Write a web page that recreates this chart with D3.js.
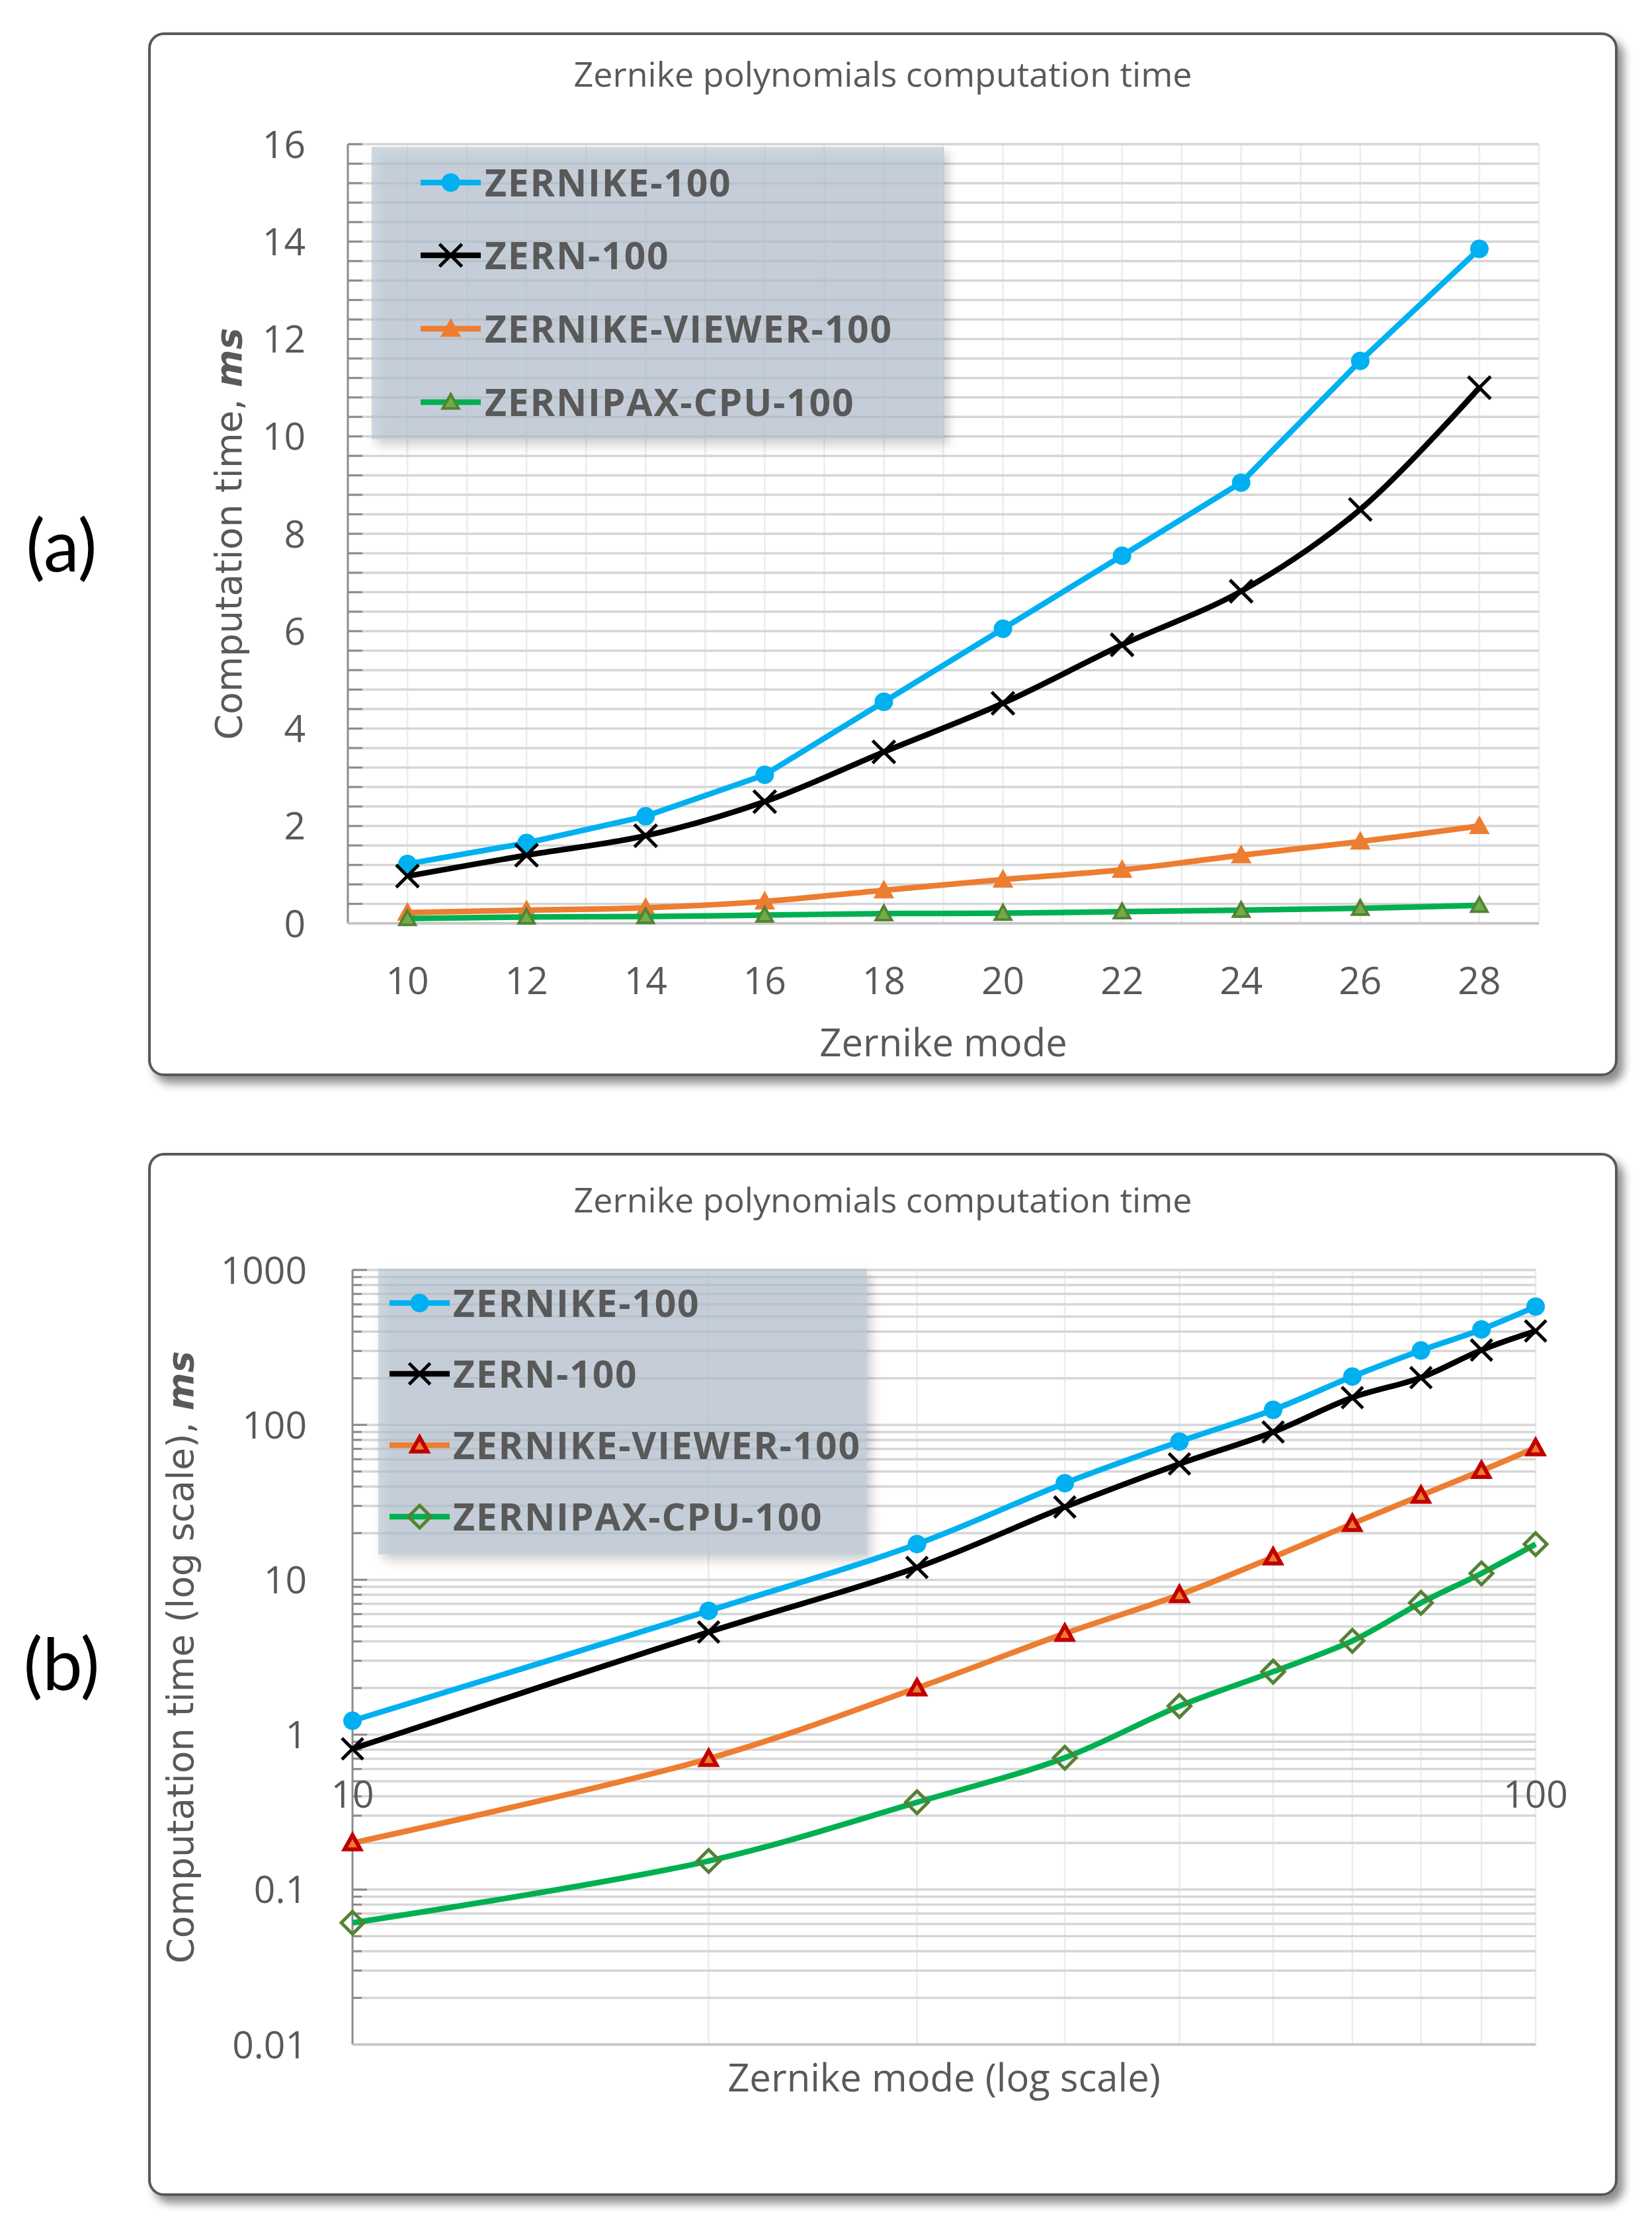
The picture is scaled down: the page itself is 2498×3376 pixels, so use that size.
<!DOCTYPE html>
<html>
<head>
<meta charset="utf-8">
<script src="https://cdn.jsdelivr.net/npm/d3@7"></script>
<style>
  body { margin: 0; background: #fff; }
  svg { display: block; }
</style>
</head>
<body>
<svg id="chart"></svg>
<script>
// ---- data, panel (a): linear axes ----
const seriesNames = ["ZERNIKE-100", "ZERN-100", "ZERNIKE-VIEWER-100", "ZERNIPAX-CPU-100"];

const modesA = [10, 12, 14, 16, 18, 20, 22, 24, 26, 28];
const zernikeA = [1.22, 1.65, 2.2, 3.05, 4.55, 6.05, 7.55, 9.05, 11.55, 13.85];
const zernA = [0.97, 1.4, 1.8, 2.5, 3.52, 4.52, 5.72, 6.82, 8.5, 11.0];
const viewerA = [0.22, 0.27, 0.32, 0.45, 0.68, 0.9, 1.1, 1.4, 1.68, 2.0];
const zernipaxA = [0.1, 0.13, 0.14, 0.17, 0.2, 0.21, 0.24, 0.27, 0.31, 0.37];
const yTicksA = [0, 2, 4, 6, 8, 10, 12, 14, 16];
const xTicksA = [10, 12, 14, 16, 18, 20, 22, 24, 26, 28];

// ---- data, panel (b): log-log axes ----
const modesB = [10, 20, 30, 40, 50, 60, 70, 80, 90, 100];
const zernikeB = [1.23, 6.3, 17, 42, 78, 125, 205, 302, 413, 580];
const zernB = [0.81, 4.6, 12, 29.5, 56, 90, 150, 202, 304, 404];
const viewerB = [0.2, 0.7, 2.0, 4.5, 8.0, 14, 23, 35, 50.6, 71];
const zernipaxB = [0.061, 0.153, 0.366, 0.71, 1.53, 2.55, 4.03, 7.1, 11, 17];
const yTicksB = [0.01, 0.1, 1, 10, 100, 1000];
const xTicksB = [10, 100];

const W = 2498, H = 3376;
const textGray = "#595959";
const font = "'Open Sans', 'Noto Sans', sans-serif";
const titleFont = "'DejaVu Sans', Verdana, sans-serif";

const svg = d3.select("#chart").attr("width", W).attr("height", H);
const defs = svg.append("defs");

defs.append("filter").attr("id", "boxShadow")
    .attr("x", "-5%").attr("y", "-5%").attr("width", "115%").attr("height", "115%")
  .append("feDropShadow")
    .attr("dx", 9).attr("dy", 11).attr("stdDeviation", 7)
    .attr("flood-color", "#000").attr("flood-opacity", 0.45);

defs.append("filter").attr("id", "legendShadow")
    .attr("x", "-10%").attr("y", "-10%").attr("width", "125%").attr("height", "130%")
  .append("feDropShadow")
    .attr("dx", 7).attr("dy", 9).attr("stdDeviation", 8)
    .attr("flood-color", "#000").attr("flood-opacity", 0.3);

// marker shapes, centred on 0,0
function markerPath(type, s) {
    if (type === "triangle") {
        return `M0,${-s}L${s},${s * 0.8}L${-s},${s * 0.8}Z`;
    }
    if (type === "diamond") {
        return `M0,${-s}L${s},0L0,${s}L${-s},0Z`;
    }
    if (type === "x") {
        return `M${-s},${-s}L${s},${s}M${s},${-s}L${-s},${s}`;
    }
    return "";
}

function drawMarker(g, m, x, y) {
    if (m.type === "circle") {
        g.append("circle").attr("cx", x).attr("cy", y).attr("r", m.size)
            .attr("fill", m.fill);
    } else {
        g.append("path").attr("d", markerPath(m.type, m.size))
            .attr("transform", `translate(${x},${y})`)
            .attr("fill", m.fill)
            .attr("stroke", m.stroke)
            .attr("stroke-width", m.width)
            .attr("stroke-linejoin", "miter");
    }
}

function drawPanel(cfg) {
    const g = svg.append("g");
    const p = cfg.plot;
    const x = cfg.x.range([p.left, p.right]);
    const y = cfg.y.range([p.bottom, p.top]);

    // frame
    g.append("rect")
        .attr("x", cfg.box.x).attr("y", cfg.box.y)
        .attr("width", cfg.box.w).attr("height", cfg.box.h)
        .attr("rx", 22).attr("ry", 22)
        .attr("fill", "#fff")
        .attr("stroke", "#595959").attr("stroke-width", 4)
        .attr("filter", "url(#boxShadow)");

    // panel label
    svg.append("text")
        .attr("x", 93).attr("y", cfg.labelY)
        .attr("text-anchor", "middle")
        .attr("font-family", "Lato, 'Open Sans', sans-serif")
        .attr("font-size", 108)
        .attr("fill", "#000")
        .text(cfg.label);

    // title
    g.append("text")
        .attr("x", cfg.box.x + cfg.box.w / 2).attr("y", cfg.titleY)
        .attr("text-anchor", "middle")
        .attr("font-family", font).attr("font-size", 52)
        .attr("fill", textGray)
        .text("Zernike polynomials computation time");

    // vertical gridlines
    g.append("g").selectAll("line")
        .data(cfg.xGrid)
        .join("line")
        .attr("x1", d => x(d)).attr("x2", d => x(d))
        .attr("y1", p.top).attr("y2", p.bottom)
        .attr("stroke", "#ececec").attr("stroke-width", 2.5);

    // horizontal gridlines
    g.append("g").selectAll("line")
        .data(cfg.yGrid)
        .join("line")
        .attr("x1", p.left).attr("x2", p.right)
        .attr("y1", d => y(d)).attr("y2", d => y(d))
        .attr("stroke", "#d6d6d6").attr("stroke-width", 3.5);

    // y axis line + inner ticks
    g.append("line")
        .attr("x1", p.left).attr("x2", p.left)
        .attr("y1", p.top).attr("y2", p.bottom)
        .attr("stroke", "#8c8c8c").attr("stroke-width", 3);
    g.append("g").selectAll("line")
        .data(cfg.yGrid)
        .join("line")
        .attr("x1", p.left).attr("x2", d => p.left + (cfg.isMajor(d) ? 22 : cfg.minorTick))
        .attr("y1", d => y(d)).attr("y2", d => y(d))
        .attr("stroke", "#8c8c8c").attr("stroke-width", 3);

    // bottom line
    g.append("line")
        .attr("x1", p.left).attr("x2", p.right)
        .attr("y1", p.bottom).attr("y2", p.bottom)
        .attr("stroke", "#c8c8c8").attr("stroke-width", 4);

    // y tick labels
    g.append("g").selectAll("text")
        .data(cfg.yTicks)
        .join("text")
        .attr("x", cfg.yLabelX).attr("y", d => y(d))
        .attr("dy", "0.36em")
        .attr("text-anchor", "end")
        .attr("font-family", font).attr("font-size", 57)
        .attr("fill", textGray)
        .text(d => String(d));

    // x tick labels
    g.append("g").selectAll("text")
        .data(cfg.xTicks)
        .join("text")
        .attr("x", d => x(d)).attr("y", cfg.xLabelY)
        .attr("text-anchor", "middle")
        .attr("font-family", font).attr("font-size", 57)
        .attr("fill", textGray)
        .text(d => String(d));

    // axis titles
    g.append("text")
        .attr("x", (p.left + p.right) / 2).attr("y", cfg.xTitleY)
        .attr("text-anchor", "middle")
        .attr("font-family", font).attr("font-size", 58)
        .attr("fill", textGray)
        .text(cfg.xTitle);

    const yt = g.append("text")
        .attr("transform", `translate(${cfg.yTitleX},${(p.top + p.bottom) / 2}) rotate(-90)`)
        .attr("text-anchor", "middle")
        .attr("font-family", titleFont).attr("font-size", 55)
        .attr("fill", textGray);
    yt.append("tspan").text(cfg.yTitle);
    yt.append("tspan").attr("font-weight", "bold").attr("font-style", "italic").text("ms");

    // legend box (drawn under the lines, over the grid)
    const L = cfg.legend;
    g.append("rect")
        .attr("x", L.x).attr("y", L.y).attr("width", L.w).attr("height", L.h)
        .attr("fill", "#b3c2d1").attr("fill-opacity", 0.62)
        .attr("filter", "url(#legendShadow)");

    // series
    cfg.series.forEach(s => {
        const pts = cfg.modes.map((m, i) => [m, s.values[i]]);
        g.append("path")
            .datum(pts)
            .attr("fill", "none")
            .attr("stroke", s.color)
            .attr("stroke-width", 8.5)
            .attr("stroke-linejoin", "round")
            .attr("d", d3.line()
                .x(d => x(d[0]))
                .y(d => y(d[1]))
                .curve(s.smooth ? d3.curveCatmullRom : d3.curveLinear));
        pts.forEach(d => drawMarker(g, s.marker, x(d[0]), y(d[1])));
    });

    // legend entries
    cfg.series.forEach((s, i) => {
        const ry = L.rows[i];
        g.append("line")
            .attr("x1", L.lineX[0]).attr("x2", L.lineX[1])
            .attr("y1", ry).attr("y2", ry)
            .attr("stroke", s.color).attr("stroke-width", 8.5);
        drawMarker(g, s.marker, (L.lineX[0] + L.lineX[1]) / 2, ry);
        g.append("text")
            .attr("x", L.textX).attr("y", ry).attr("dy", "0.36em")
            .attr("font-family", font).attr("font-size", 57)
            .attr("font-weight", "bold")
            .attr("letter-spacing", 1.8)
            .attr("fill", textGray)
            .text(seriesNames[i]);
    });
}

// ---- panel (a) ----
drawPanel({
    label: "(a)", labelY: 864,
    box: {x: 226, y: 51, w: 2218, h: 1574},
    plot: {left: 526, right: 2327, top: 218, bottom: 1396},
    x: d3.scaleLinear().domain([9, 29]),
    y: d3.scaleLinear().domain([0, 16]),
    xGrid: d3.range(10, 30),
    yGrid: d3.range(0, 41).map(i => i * 0.4),
    isMajor: () => true,
    minorTick: 22,
    yTicks: yTicksA, xTicks: xTicksA,
    yLabelX: 462, xLabelY: 1503,
    titleY: 131, xTitleY: 1597,
    xTitle: "Zernike mode",
    yTitle: "Computation time, ", yTitleX: 365,
    modes: modesA,
    legend: {x: 562, y: 222, w: 865, h: 442, rows: [276, 386, 497, 608], lineX: [636, 727], textX: 733},
    series: [
        {values: zernikeA, color: "#00b0f0", smooth: false,
         marker: {type: "circle", size: 14, fill: "#00b0f0"}},
        {values: zernA, color: "#000", smooth: true,
         marker: {type: "x", size: 17, fill: "none", stroke: "#000", width: 5}},
        {values: viewerA, color: "#ed7d31", smooth: true,
         marker: {type: "triangle", size: 14, fill: "#ed7d31", stroke: "#ed7d31", width: 2}},
        {values: zernipaxA, color: "#00b050", smooth: true,
         marker: {type: "triangle", size: 12, fill: "#70ad47", stroke: "#548235", width: 4}}
    ]
});

// ---- panel (b) ----
const decades = [0.01, 0.1, 1, 10, 100];
const logGrid = [1000];
decades.forEach(dec => d3.range(1, 10).forEach(k => logGrid.push(+(k * dec).toPrecision(3))));

drawPanel({
    label: "(b)", labelY: 2555,
    box: {x: 226, y: 1745, w: 2218, h: 1573},
    plot: {left: 533, right: 2322, top: 1920, bottom: 3091},
    x: d3.scaleLog().domain([10, 100]),
    y: d3.scaleLog().domain([0.01, 1000]),
    xGrid: d3.range(20, 101, 10),
    yGrid: logGrid,
    isMajor: d => yTicksB.includes(d),
    minorTick: 14,
    yTicks: yTicksB, xTicks: xTicksB,
    yLabelX: 464, xLabelY: 2733,
    titleY: 1833, xTitleY: 3162,
    xTitle: "Zernike mode (log scale)",
    yTitle: "Computation time (log scale), ", yTitleX: 292,
    modes: modesB,
    legend: {x: 572, y: 1918, w: 739, h: 432, rows: [1970, 2077, 2185, 2293], lineX: [589, 680], textX: 685},
    series: [
        {values: zernikeB, color: "#00b0f0", smooth: true,
         marker: {type: "circle", size: 14, fill: "#00b0f0"}},
        {values: zernB, color: "#000", smooth: true,
         marker: {type: "x", size: 16, fill: "none", stroke: "#000", width: 5}},
        {values: viewerB, color: "#ed7d31", smooth: true,
         marker: {type: "triangle", size: 12, fill: "#ed7d31", stroke: "#c00000", width: 6}},
        {values: zernipaxB, color: "#00b050", smooth: true,
         marker: {type: "diamond", size: 17, fill: "none", stroke: "#548235", width: 5}}
    ]
});
</script>
</body>
</html>
